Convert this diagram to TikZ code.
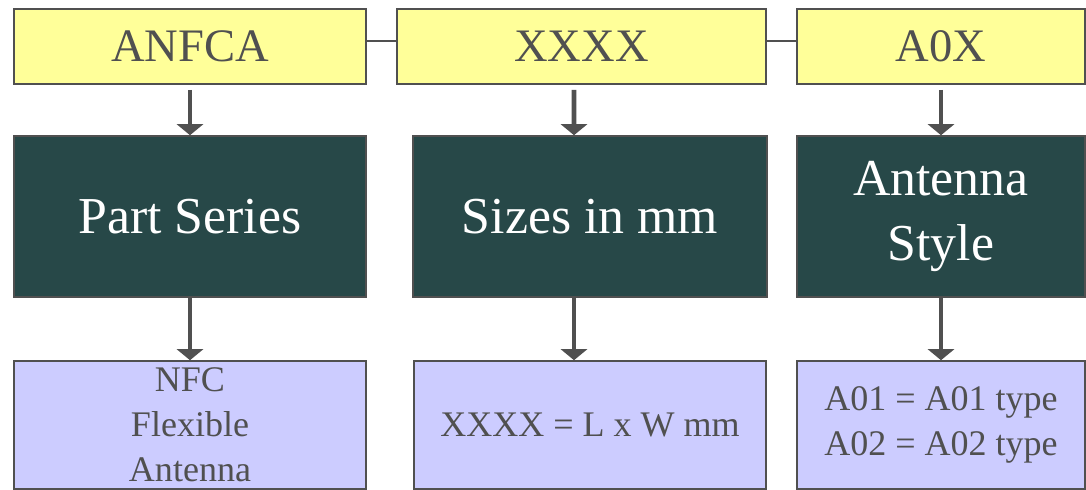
\documentclass[tikz,border=0pt]{standalone}
\usepackage{fontspec}
\setmainfont{Liberation Serif}
\usepackage{tikz}
\usetikzlibrary{arrows.meta, positioning}

\definecolor{codefill}{HTML}{FFFF99}
\definecolor{titlefill}{HTML}{274848}
\definecolor{infofill}{HTML}{CCCCFF}
\definecolor{edgegray}{HTML}{505050}

\begin{document}
\begin{tikzpicture}[x=0.02cm, y=-0.02cm,
	codebox/.style={draw=edgegray, line width=0.9pt, fill=codefill, text=edgegray, minimum height=1.5cm, font=\fontsize{26.5}{30}\selectfont},
	titlebox/.style={draw=edgegray, line width=0.9pt, fill=titlefill, text=white, minimum height=3.22cm, align=center, font=\fontsize{29.5}{36.5}\selectfont},
	infobox/.style={draw=edgegray, line width=0.9pt, fill=infofill, text=edgegray, minimum height=2.56cm, align=center, font=\fontsize{20.5}{25.5}\selectfont},
	arr/.style={draw=edgegray, line width=2.8pt, -{Triangle[width=0.52cm, length=0.22cm]}},
	link/.style={draw=edgegray, line width=0.9pt}]
			\useasboundingbox (0, 0) rectangle (1086, 490);
			\draw
			node[codebox, minimum width=7.04cm] (anfca) at (190, 46.5) {ANFCA}
			node[codebox, minimum width=7.38cm] (xxxx) at (581.5, 46.5) {XXXX}
			node[codebox, minimum width=5.76cm] (aox) at (941, 46.5) {A0X}
			node[titlebox, minimum width=7.04cm] (series) at (190, 216.5) {Part Series}
			node[titlebox, minimum width=7.08cm] (sizes) at (590, 216.5) {Sizes in mm}
			node[titlebox, minimum width=5.76cm] (style) at (941, 216.5) {Antenna\\Style}
			node[infobox, minimum width=7.04cm] (nfc) at (190, 425) {NFC\\Flexible\\Antenna}
			node[infobox, minimum width=7.04cm] (dims) at (590, 425) {XXXX = L x W mm}
			node[infobox, minimum width=5.76cm, align=left] (types) at (941, 425) {A01 = A01 type\\A02 = A02 type};
			\draw[link] ([yshift=0.11cm]anfca.east) -- ([yshift=0.11cm]xxxx.west);
			\draw[link] ([yshift=0.11cm]xxxx.east) -- ([yshift=0.11cm]aox.west);
			\draw[arr] ([yshift=-0.1cm]anfca.south) -- (series.north);
				\draw[arr] (series.south) -- (nfc.north);
			\draw[arr] ([xshift=-0.15cm, yshift=-0.1cm]xxxx.south) -- ([xshift=-0.32cm]sizes.north);
				\draw[arr] ([xshift=-0.32cm]sizes.south) -- ([xshift=-0.32cm]dims.north);
			\draw[arr] ([yshift=-0.1cm]aox.south) -- (style.north);
				\draw[arr] (style.south) -- (types.north);
		\end{tikzpicture}
\end{document}
